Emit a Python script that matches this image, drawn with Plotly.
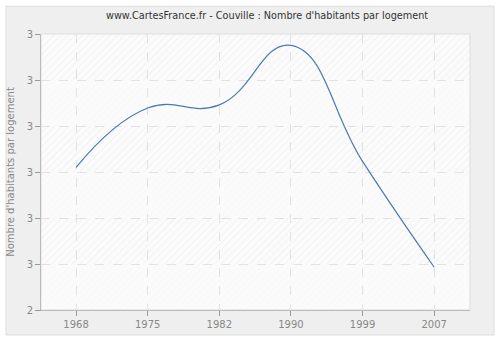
import plotly.graph_objects as go

years = ["1968", "1975", "1982", "1990", "1999", "2007"]
values = [2.605, 2.6695, 2.673, 2.7377, 2.6115, 2.4965]
y_tickvals = [2.45, 2.50, 2.55, 2.60, 2.65, 2.70, 2.75]
y_ticktext = ["2", "3", "3", "3", "3", "3", "3"]

x_range = [-0.49, 5.5]
font = "DejaVu Sans"

fig = go.Figure()

# alternating hatched bands (decorative background), on numeric overlay axis
for i in range(len(y_tickvals) - 1):
    y0, y1 = y_tickvals[i], y_tickvals[i + 1]
    hatched = (len(y_tickvals) - 2 - i) % 2 == 0
    fg = "rgba(200,200,200,0.6)" if hatched else "rgba(220,220,220,0.35)"
    fig.add_trace(go.Scatter(
        x=[0, 1, 1, 0, 0], y=[y0, y0, y1, y1, y0], xaxis="x2",
        mode="none", fill="toself", fillcolor="rgba(0,0,0,0)",
        fillpattern=dict(shape="/", fgcolor=fg, bgcolor="rgba(0,0,0,0)", size=5, solidity=0.15),
        hoverinfo="skip", showlegend=False))

fig.add_trace(go.Scatter(
    x=years, y=values, mode="lines",
    line=dict(color="#4a78b0", width=1.2, shape="spline", smoothing=1.3),
    showlegend=False))

fig.update_layout(
    width=500, height=340,
    margin=dict(l=41, r=30, t=34, b=30),
    paper_bgcolor="#ffffff",
    plot_bgcolor="#fbfbfb",
    title=dict(text="www.CartesFrance.fr - Couville : Nombre d'habitants par logement",
               xref="paper", x=0.527, xanchor="center", y=0.955, yanchor="middle",
               font=dict(family=font, size=9.7, color="#333333")),
    shapes=[
        dict(type="rect", xref="paper", yref="paper",
             x0=-0.0816, x1=1.056, y0=-0.0906, y1=1.101,
             fillcolor="#efefef", line=dict(color="#dddddd", width=1), layer="below"),
        dict(type="rect", xref="paper", yref="paper", x0=0, x1=1, y0=0, y1=1,
             fillcolor="#fbfbfb", line=dict(width=0), layer="below"),
        dict(type="rect", xref="paper", yref="paper", x0=0, x1=1, y0=0, y1=1,
             fillcolor="rgba(0,0,0,0)", line=dict(color="#dddddd", width=1), layer="above"),
    ],
    xaxis2=dict(overlaying="x", range=[0, 1], visible=False, fixedrange=True),
)

fig.layout.xaxis.update(
    type="category", range=x_range,
    showgrid=True, gridcolor="#e2e2e2", griddash="dash", gridwidth=1,
    showline=True, linecolor="#999999", linewidth=1,
    ticks="outside", ticklen=5, tickcolor="#999999",
    tickfont=dict(family=font, size=10, color="#888888"),
    zeroline=False, automargin=False,
)
fig.update_yaxes(
    range=[y_tickvals[0], y_tickvals[-1]], tickvals=y_tickvals, ticktext=y_ticktext,
    showgrid=True, gridcolor="#e2e2e2", griddash="dash", gridwidth=1,
    showline=True, linecolor="#999999", linewidth=1,
    ticks="outside", ticklen=5, tickcolor="#999999",
    tickfont=dict(family=font, size=10, color="#888888"),
    title=dict(text="Nombre d'habitants par logement", standoff=10,
               font=dict(family=font, size=10, color="#888888")),
    zeroline=False, automargin=False,
)

fig.write_html("out.html")
